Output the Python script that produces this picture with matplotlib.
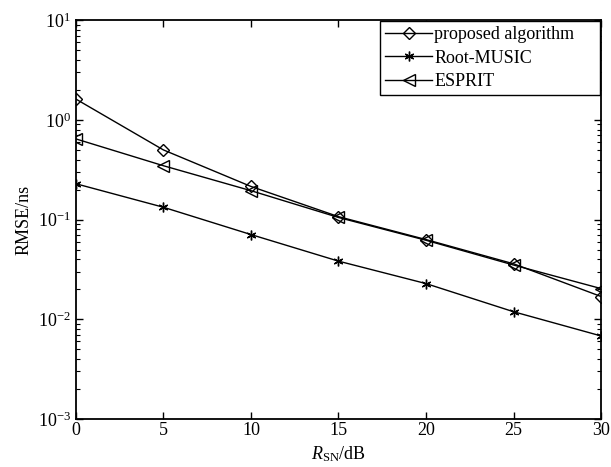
import numpy as np
import matplotlib
matplotlib.use("Agg")
import matplotlib.pyplot as plt
from matplotlib.ticker import LogLocator, NullFormatter

plt.rcParams['font.family'] = ['Liberation Serif', 'DejaVu Serif']
plt.rcParams['mathtext.fontset'] = 'custom'
plt.rcParams['mathtext.rm'] = 'Liberation Serif'
plt.rcParams['mathtext.it'] = 'Liberation Serif:italic'

# SNR in dB
snr = [0, 5, 10, 15, 20, 25, 30]
# RMSE values (ns)
proposed = [1.62, 0.50, 0.215, 0.107, 0.063, 0.036, 0.0169]
root_music = [0.229, 0.133, 0.0708, 0.0383, 0.0228, 0.0119, 0.0068]
esprit = [0.645, 0.347, 0.195, 0.105, 0.062, 0.035, 0.0203]

fig = plt.figure(figsize=(6.11, 4.67), dpi=100)
ax = fig.add_axes([0.124, 0.1028, 0.86, 0.854])

asterisk = (6, 2, 0)
ax.plot(snr, proposed, color='k', lw=1, marker='D', ms=6, mfc='none', mew=1,
        label='proposed algorithm')
ax.plot(snr, root_music, color='k', lw=1, marker=asterisk, ms=7, mew=1,
        label='Root-MUSIC')
ax.plot(snr, esprit, color='k', lw=1, marker='<', ms=8, mfc='none', mew=1,
        label='ESPRIT')

ax.set_yscale('log')
ax.set_xlim(0, 30)
ax.set_ylim(1e-3, 1e1)
ax.set_xticks([0, 5, 10, 15, 20, 25, 30])
ax.yaxis.set_major_locator(LogLocator(base=10, numticks=10))
ax.yaxis.set_minor_locator(LogLocator(base=10, subs=np.arange(2, 10), numticks=10))
ax.yaxis.set_minor_formatter(NullFormatter())

ax.tick_params(which='both', direction='in', top=True, right=True, labelsize=13)
ax.tick_params(which='major', length=5, width=1)
ax.tick_params(which='minor', length=3, width=0.8)
ax.tick_params(axis='x', pad=2)
for s in ax.spines.values():
    s.set_linewidth(1.3)

ax.set_xlabel(r'$R_{\mathrm{SN}}$/dB', fontsize=13, labelpad=4)
ax.set_ylabel('RMSE/ns', fontsize=13, labelpad=4)

leg = ax.legend(loc='upper left', bbox_to_anchor=(0.579, 0.0, 0.419, 0.998),
                mode='expand', fontsize=13, frameon=True, fancybox=False,
                edgecolor='k', framealpha=1, borderpad=0.3, labelspacing=0.35,
                handlelength=2.6, handletextpad=0.1, borderaxespad=0.0)
leg.get_frame().set_linewidth(1)

fig.savefig('out.png', dpi=100)
